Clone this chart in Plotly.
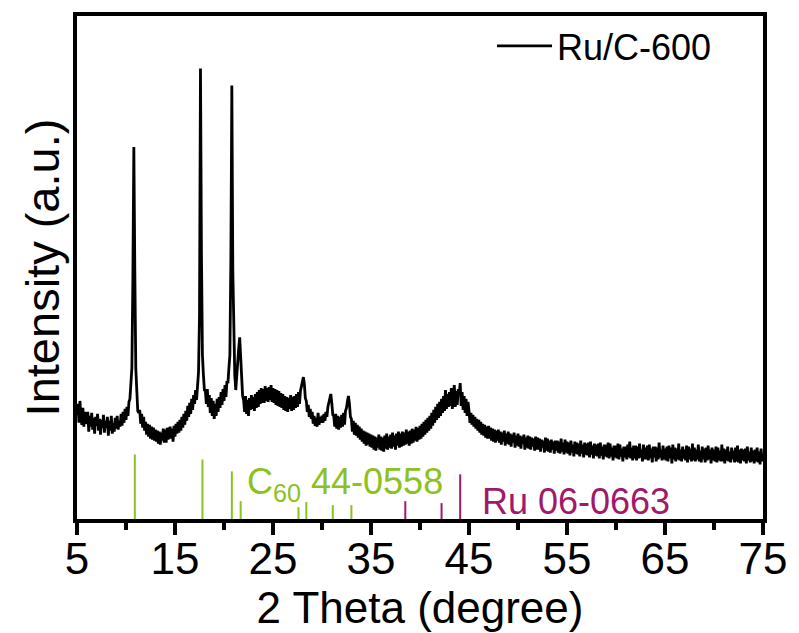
import plotly.graph_objects as go

# ---------------- data ----------------
two_theta_start = 5.0
two_theta_step = 0.1

# Intensity (a.u.), one row per degree (5.0 .. 5.9, 6.0 .. 6.9, ...)
intensity_rows = [
    [104, 116, 97, 119, 102, 95, 112, 93, 108, 96],       # 5
    [99, 108, 88, 104, 93, 107, 90, 102, 86, 103],        # 6
    [94, 106, 89, 101, 85, 100, 92, 105, 87, 99],         # 7
    [92, 103, 84, 99, 89, 104, 86, 97, 88, 102],          # 8
    [91, 104, 90, 99, 93, 106, 94, 108, 97, 111],         # 9
    [100, 113, 104, 118, 121, 134, 152, 240, 375, 250],   # 10
    [152, 130, 109, 107, 110, 96, 106, 92, 103, 89],      # 11
    [98, 85, 96, 83, 95, 81, 93, 80, 92, 79],             # 12
    [90, 78, 89, 76, 88, 75, 87, 79, 91, 77],             # 13
    [90, 77, 92, 80, 89, 93, 81, 91, 78, 94],             # 14
    [83, 96, 86, 98, 87, 100, 89, 103, 92, 106],          # 15
    [95, 109, 99, 114, 103, 117, 106, 121, 110, 125],     # 16
    [116, 130, 120, 136, 148, 205, 454, 265, 165, 145],   # 17
    [130, 129, 116, 131, 113, 125, 107, 122, 104, 119],   # 18
    [101, 116, 104, 121, 108, 123, 112, 128, 115, 131],   # 19
    [119, 135, 123, 139, 137, 152, 165, 260, 437, 250],   # 20
    [165, 145, 130, 148, 160, 172, 183, 160, 135, 124],   # 21
    [120, 108, 124, 106, 120, 104, 122, 110, 125, 111],   # 22
    [123, 109, 126, 112, 128, 113, 130, 116, 132, 117],   # 23
    [131, 117, 134, 119, 132, 118, 133, 120, 135, 118],   # 24
    [132, 117, 131, 115, 130, 114, 129, 113, 127, 112],   # 25
    [126, 110, 124, 109, 123, 108, 122, 111, 125, 109],   # 26
    [123, 110, 124, 112, 126, 113, 128, 116, 129, 133],   # 27
    [140, 143, 136, 122, 119, 108, 115, 103, 111, 101],   # 28
    [108, 96, 104, 94, 102, 93, 107, 95, 103, 97],        # 29
    [104, 97, 106, 99, 108, 103, 113, 118, 123, 126],     # 30
    [117, 105, 104, 93, 106, 91, 104, 90, 103, 92],       # 31
    [105, 93, 107, 95, 109, 112, 119, 124, 116, 103],     # 32
    [101, 88, 99, 85, 97, 84, 95, 82, 93, 80],            # 33
    [91, 78, 89, 76, 88, 74, 87, 75, 86, 73],             # 34
    [85, 72, 84, 70, 83, 69, 82, 72, 85, 70],             # 35
    [83, 69, 82, 68, 84, 71, 86, 70, 83, 72],             # 36
    [85, 71, 87, 73, 84, 70, 86, 74, 88, 72],             # 37
    [86, 73, 88, 74, 87, 75, 90, 76, 88, 74],             # 38
    [89, 76, 91, 77, 90, 79, 93, 78, 92, 80],             # 39
    [94, 81, 96, 83, 98, 85, 100, 87, 102, 89],           # 40
    [104, 91, 107, 94, 110, 97, 113, 100, 116, 102],      # 41
    [118, 104, 121, 107, 124, 109, 130, 111, 126, 113],   # 42
    [128, 114, 132, 111, 126, 135, 113, 129, 115, 131],   # 43
    [125, 137, 114, 128, 110, 124, 107, 121, 104, 118],   # 44
    [109, 97, 107, 95, 105, 93, 103, 91, 101, 89],        # 45
    [100, 87, 98, 85, 96, 84, 95, 82, 93, 81],            # 46
    [94, 81, 92, 79, 91, 78, 90, 77, 89, 79],             # 47
    [90, 77, 88, 75, 87, 78, 89, 74, 86, 76],             # 48
    [88, 75, 86, 73, 85, 77, 87, 72, 84, 74],             # 49
    [86, 73, 84, 71, 83, 76, 85, 70, 82, 72],             # 50
    [84, 71, 83, 70, 82, 73, 81, 69, 83, 70],             # 51
    [82, 70, 81, 68, 80, 72, 79, 67, 82, 69],             # 52
    [81, 68, 79, 67, 80, 70, 78, 66, 79, 69],             # 53
    [79, 67, 78, 66, 81, 68, 77, 65, 80, 67],             # 54
    [78, 66, 77, 64, 79, 67, 75, 63, 78, 66],             # 55
    [77, 65, 76, 63, 79, 66, 75, 62, 77, 65],             # 56
    [76, 64, 77, 62, 78, 65, 74, 61, 76, 64],             # 57
    [75, 63, 76, 61, 77, 64, 73, 60, 75, 63],             # 58
    [75, 62, 77, 61, 76, 63, 72, 59, 74, 62],             # 59
    [74, 61, 76, 60, 75, 63, 71, 58, 73, 62],             # 60
    [73, 60, 75, 62, 78, 61, 72, 59, 74, 61],             # 61
    [74, 59, 73, 61, 76, 62, 70, 58, 75, 60],             # 62
    [72, 60, 74, 59, 75, 61, 71, 57, 73, 62],             # 63
    [73, 58, 72, 60, 77, 62, 70, 59, 74, 60],             # 64
    [71, 59, 73, 58, 74, 61, 72, 56, 75, 60],             # 65
    [72, 58, 71, 60, 76, 59, 70, 58, 73, 61],             # 66
    [70, 59, 74, 57, 73, 60, 71, 58, 76, 59],             # 67
    [72, 58, 70, 60, 75, 58, 69, 57, 73, 60],             # 68
    [71, 57, 72, 59, 74, 60, 70, 56, 72, 59],             # 69
    [70, 58, 73, 57, 72, 59, 69, 58, 75, 58],             # 70
    [71, 56, 70, 59, 73, 58, 68, 57, 72, 60],             # 71
    [69, 57, 72, 58, 74, 57, 70, 56, 71, 59],             # 72
    [70, 58, 71, 56, 73, 59, 68, 57, 72, 58],             # 73
    [69, 56, 70, 58, 72, 57, 68, 55, 71, 58],             # 74
    [66],                                                 # 75
]

# Reference patterns (stick positions in 2-theta, relative heights)
c60_pos = [10.9, 17.8, 20.8, 21.7, 27.6, 28.4, 31.1, 33.0]
c60_h = [65, 60, 48, 18, 12, 17, 14, 14]
ru_pos = [38.5, 42.2, 44.1]
ru_h = [18, 16, 45]

x_ticks = [5, 15, 25, 35, 45, 55, 65, 75]
series_name = "Ru/C-600"
c60_label = "C<sub>60</sub> 44-0558"
ru_label = "Ru 06-0663"

# ---------------- build ----------------
intensity = [v for row in intensity_rows for v in row]
two_theta = [round(two_theta_start + i * two_theta_step, 2) for i in range(len(intensity))]

GREEN = "#8CC220"
MAGENTA = "#A0196A"
FONT = "Liberation Sans, Arial, Helvetica, sans-serif"


def sticks(pos, h):
    xs, ys = [], []
    for p, v in zip(pos, h):
        xs += [p, p, None]
        ys += [0, v, None]
    return xs, ys


fig = go.Figure()
sx, sy = sticks(c60_pos, c60_h)
fig.add_trace(go.Scatter(x=sx, y=sy, mode="lines", line=dict(color=GREEN, width=2),
                         showlegend=False, hoverinfo="skip"))
sx, sy = sticks(ru_pos, ru_h)
fig.add_trace(go.Scatter(x=sx, y=sy, mode="lines", line=dict(color=MAGENTA, width=2),
                         showlegend=False, hoverinfo="skip"))
fig.add_trace(go.Scatter(x=two_theta, y=intensity, mode="lines", name=series_name,
                         line=dict(color="black", width=2.8)))

fig.add_annotation(x=22.1, y=35, xref="x", yref="y", text=c60_label, showarrow=False,
                   xanchor="left", yanchor="middle",
                   font=dict(family=FONT, size=36, color=GREEN))
fig.add_annotation(x=46.1, y=18, xref="x", yref="y", text=ru_label, showarrow=False,
                   xanchor="left", yanchor="middle",
                   font=dict(family=FONT, size=36, color=MAGENTA))

fig.update_layout(
    width=799, height=633,
    margin=dict(l=77, r=36, t=16, b=114),
    paper_bgcolor="white", plot_bgcolor="white",
    font=dict(family=FONT, color="black"),
    showlegend=True,
    legend=dict(x=0.605, y=1.0, xanchor="left", yanchor="top", itemwidth=55,
                bgcolor="rgba(0,0,0,0)", font=dict(size=36, family=FONT)),
)
fig.update_xaxes(
    range=[5, 75], tickvals=x_ticks, ticktext=[str(t) for t in x_ticks],
    showline=True, linewidth=4, linecolor="black", mirror=True,
    ticks="outside", ticklen=12, tickwidth=4, tickcolor="black",
    minor=dict(ticks="outside", ticklen=7, tickwidth=4, tickcolor="black", dtick=5, tick0=5),
    showgrid=False, zeroline=False, automargin=False,
    tickfont=dict(size=44, family=FONT), ticklabelstandoff=-14,
    title=dict(text="2 Theta (degree)", font=dict(size=44, family=FONT), standoff=2),
)
fig.update_yaxes(
    range=[0, 507], showticklabels=False, ticks="",
    showline=True, linewidth=4, linecolor="black", mirror=True,
    showgrid=False, zeroline=False, automargin=False,
    title=dict(text="Intensity (a.u.)", font=dict(size=47, family=FONT), standoff=0),
)

fig.write_html("out.html")
